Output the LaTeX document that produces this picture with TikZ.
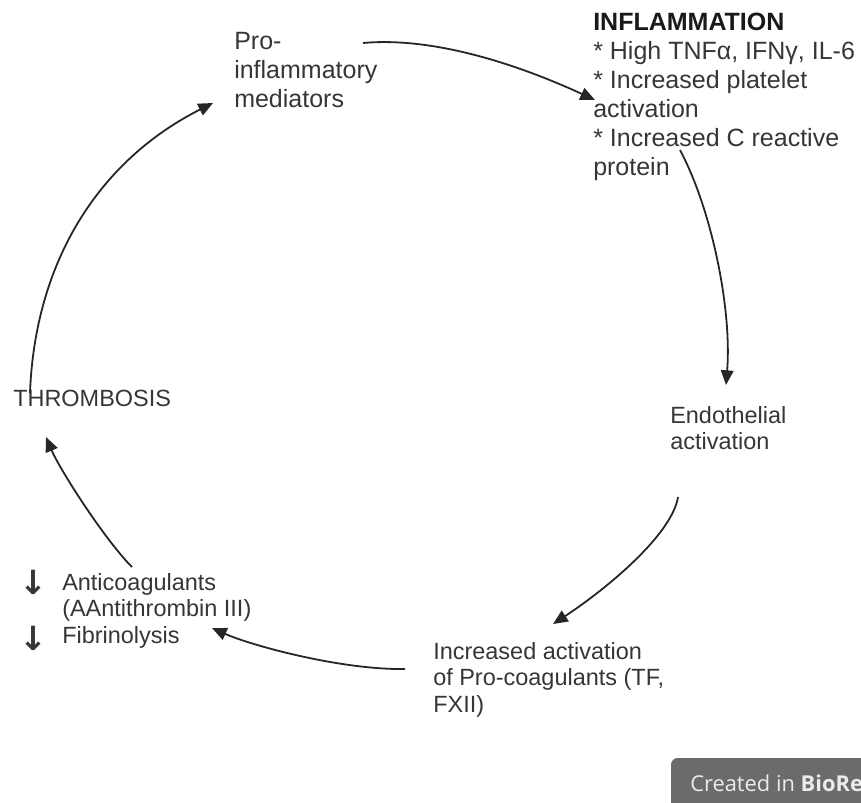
\documentclass[tikz,border=0pt]{standalone}
\usepackage{fontspec}
\setmainfont{Liberation Sans}
\newfontfamily\badgefont{Open Sans}
\newfontfamily\arrowfont{DejaVu Sans}
\usetikzlibrary{arrows.meta,calc}

\definecolor{txt}{HTML}{363636}
\definecolor{badgegray}{HTML}{6B6B6B}

\begin{document}
\begin{tikzpicture}[x=0.75pt,y=-0.75pt,
  lbl/.style={anchor=north west,inner sep=0pt,align=left,text=txt,
    font=\fontsize{17.6}{19.9}\selectfont},
  big/.style={lbl,font=\fontsize{18.75}{21.75}\selectfont},
  cyc/.style={draw=black!85,line width=1.35pt,
    -{Triangle[length=11pt,width=9.5pt]}}]
   \useasboundingbox (0,0) rectangle (861,803);

   % the six stations of the cycle
   \node[big] (pro)  at (234,32)  {Pro-\\inflammatory\\mediators};
   \node[big] (infl) at (593,13)  {\textbf{\color{black!90}INFLAMMATION}\\
      * High TNFα, IFNγ, IL-6\\* Increased platelet\\activation\\
      * Increased C reactive\\protein};
   \node[lbl] (endo) at (670,406) {Endothelial\\activation};
   \node[lbl] (proc) at (433,642) {Increased activation\\of Pro-coagulants (TF,\\FXII)};
   \node[lbl] (anti) at (62,573)  {Anticoagulants\\(AAntithrombin III)\\Fibrinolysis};
   \node[lbl] (thr)  at (13,390)  {THROMBOSIS};
   \node[lbl,anchor=north,align=center,
     font=\arrowfont\bfseries\fontsize{25}{21}\selectfont] (dn) at (33,570) {↓\\\mbox{}\\↓};

   % arrows round the circle
   \draw[cyc] ($(pro.north west)+(129,11)$) .. controls +(77,-7) and +(-65,-30) .. ($(infl.north west)+(2,87)$);
   \draw[cyc] ($(infl.north west)+(87,137)$) .. controls +(32,60) and +(6,-75) .. ($(endo.north west)+(56,-21)$);
   \draw[cyc] ($(endo.north west)+(8,91)$) .. controls +(-6,38) and +(52,-34) .. ($(proc.north west)+(120,-18)$);
   \draw[cyc] ($(proc.north west)+(-28,27)$) .. controls +(-65,1) and +(38,17) .. ($(anti.north west)+(150,55)$);
   \draw[cyc] ($(anti.north west)+(70,-6)$) .. controls +(-27,-27) and +(14,33) .. ($(thr.north west)+(33,47)$);
   \draw[cyc] ($(thr.north west)+(17,3)$) .. controls +(5,-133) and +(-113,57) .. ($(pro.north west)+(-21,71)$);

   % badge in the corner
   \begin{scope}
     \clip (0,0) rectangle (861,803);
     \fill[badgegray,rounded corners=5pt] (671,758) rectangle (930,850);
     \node[anchor=base west,inner sep=0pt,text=white!92!black,
       font=\badgefont\fontsize{16.4}{20}\selectfont] (badge) at (690,791) {Created in \textbf{BioRe}};
   \end{scope}
\end{tikzpicture}
\end{document}
